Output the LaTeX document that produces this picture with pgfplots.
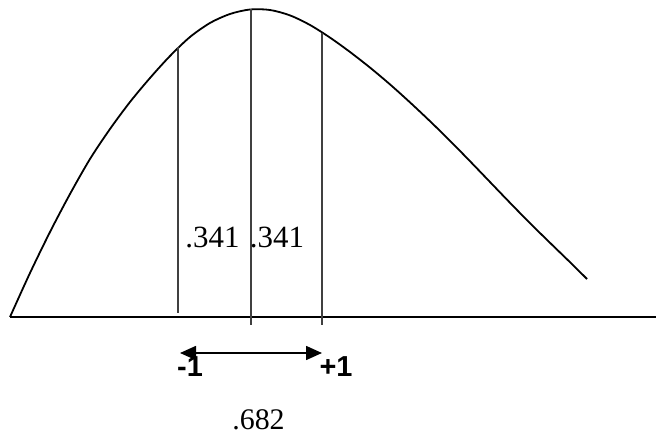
\documentclass[border=0pt]{standalone}
\usepackage{pgfplots}
\pgfplotsset{compat=1.18}
\usepackage{fontspec}
\setmainfont{Liberation Serif}
\newfontfamily\arialf{Liberation Sans}
\usetikzlibrary{arrows.meta}
\begin{document}
\begin{tikzpicture}
\begin{axis}[name=ax, anchor=south west, at={(0,0)},
  scale only axis, width=656bp, height=437bp,
  xmin=0, xmax=656, ymin=0, ymax=437, hide axis, clip=false]
\addplot[black, line width=1.8bp, smooth] coordinates {
(10,120)(30,164)(50,205)(70,243)(90,278)(110,308)(130,335)(150,359)(170,381)(190,400)(210,414)(230,423)(250,427.5)(270,427)(290,421.6)(310,412)(330,399.4)(350,385)(370,369.4)(390,352.6)(410,334.6)(430,315.8)(450,296.2)(470,275.8)(490,255)(510,234.2)(530,213.8)(550,194.2)(570,174.8)(587,158)};
\addplot[black, line width=1.8bp] coordinates {(10,120)(656,120)};
\addplot[black!75, line width=1.7bp] coordinates {(178,390)(178,124)};
\addplot[black!75, line width=1.7bp] coordinates {(251,428)(251,112)};
\addplot[black!75, line width=1.7bp] coordinates {(322,404)(322,112)};
\addplot[black, line width=1.6bp, {Triangle[length=16bp,width=14bp]}-{Triangle[length=16bp,width=14bp]}] coordinates {(180,84)(322,84)};
\node[anchor=base, inner sep=0pt, font=\fontsize{31}{35}\selectfont] at (axis cs:212.5,189) {.341};
\node[anchor=base, inner sep=0pt, font=\fontsize{31}{35}\selectfont] at (axis cs:277,189) {.341};
\node[anchor=base, inner sep=0pt, font=\fontsize{30}{34}\selectfont] at (axis cs:258.5,7) {.682};
\node[anchor=base, inner sep=0pt, font=\arialf\bfseries\fontsize{29}{33}\selectfont] at (axis cs:190,60) {-1};
\node[anchor=base, inner sep=0pt, font=\arialf\bfseries\fontsize{29}{33}\selectfont] at (axis cs:336,60) {+1};
\end{axis}
\pgfresetboundingbox
\path (ax.south west) rectangle (ax.north east);
\end{tikzpicture}
\end{document}
